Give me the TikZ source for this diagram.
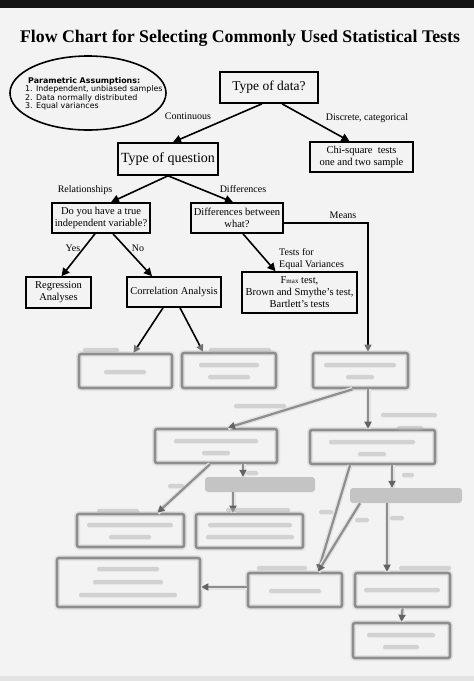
\documentclass[tikz,border=0pt]{standalone}
\usepackage{fontspec}
\setmainfont{Liberation Serif}
\newfontfamily\asmfont{DejaVu Sans}
\usetikzlibrary{
    arrows.meta,
    shapes.geometric
}
\definecolor{bgcol}{HTML}{F3F3F3}
\definecolor{blurcol}{HTML}{8E8E8E}

\begin{document}
\begin{tikzpicture}[
        x=1pt, y=-1pt,
        every node/.style={
            font=\fontsize{10.5pt}{12pt}\selectfont
        },
        heading/.style={
            font=\bfseries\fontsize{17.8pt}{20pt}\selectfont
        },
        assume/.style={
            ellipse,
            draw=black,
            line width=1.6pt,
            minimum width=156pt,
            minimum height=74pt,
            inner sep=0pt
        },
        asmtext/.style={
            align=left,
            inner sep=0pt,
            font=\asmfont\fontsize{7.9pt}{8.5pt}\selectfont
        },
        box/.style={
            rectangle,
            draw=black,
            line width=1.6pt,
            inner sep=0pt,
            align=center
        },
        lbl/.style={
            inner sep=0pt,
            font=\fontsize{10pt}{12pt}\selectfont
        },
        blurbox/.style={
            rectangle,
            draw=blurcol,
            line width=2.6pt,
            rounded corners=2pt,
            preaction={draw=gray!22, line width=6pt},
            inner sep=0pt
        },
        smudge/.style={
            rectangle,
            fill=gray!60,
            opacity=0.5,
            rounded corners=1.5pt,
            inner sep=0pt,
            minimum height=4.5pt
        },
        strip/.style={
            rectangle,
            fill=gray!55,
            opacity=0.8,
            rounded corners=3pt,
            inner sep=0pt,
            minimum height=15pt
        },
        arrow/.style={
            -{Triangle[length=8pt,width=8pt]},
            line width=1.6pt,
            draw=black
        },
        halfarrow/.style={
            -{Triangle[length=7pt,width=7pt,color=blurcol!80!black]},
            line width=1.6pt,
            draw=black
        },
        blurarrow/.style={
            -{Triangle[length=7pt,width=7pt,color=blurcol!70!black]},
            line width=2.2pt,
            draw=blurcol,
            preaction={draw=gray!22, line width=5pt, -}
        }
    ]

    % page
    \fill[bgcol] (0,0) rectangle (474,681);
    \fill[black!92] (0,0) rectangle (474,8);
    \fill[gray!22] (0,676) rectangle (474,681);
    \useasboundingbox (0,0) rectangle (474,681);

    \node[heading] (title) at (240,38)
        {Flow Chart for Selecting Commonly Used Statistical Tests};

    \node[assume] (assume) at (88,93) {};
    \node[asmtext, anchor=west] (asmtext) at (25,94)
        {\hspace*{3pt}\textbf{Parametric Assumptions:}\\
         1. Independent, unbiased samples\\
         2. Data normally distributed\\
         3. Equal variances};

    % sharp upper part
    \node[box, minimum width=98pt, minimum height=31pt,
          font=\fontsize{13.5pt}{15pt}\selectfont] (datatype) at (269,87.5)
        {Type of data?};

    \node[box, minimum width=100pt, minimum height=32pt,
          font=\fontsize{14pt}{16pt}\selectfont] (question) at (168,159)
        {Type of question};

    \node[box, minimum width=103pt, minimum height=30pt] (chisq) at (361.5,157)
        {Chi-square~ tests\\one and two sample};

    \node[box, minimum width=98pt, minimum height=30pt] (truevar) at (101,218)
        {Do you have a true\\independent variable?};

    \node[box, minimum width=92pt, minimum height=30pt] (diffwhat) at (237,218)
        {Differences between\\what?};

    \node[box, minimum width=65pt, minimum height=31pt] (regress) at (58.5,292.5)
        {Regression\\Analyses};

    \node[box, minimum width=94pt, minimum height=30pt] (corr) at (174,292)
        {Correlation Analysis};

    \node[box, minimum width=115pt, minimum height=41pt] (vartests) at (299.5,292.5)
        {F{\fontsize{7pt}{8pt}\selectfont max} test,\\
         Brown and Smythe's test,\\
         Bartlett's tests};

    \draw[arrow] ([xshift=-7pt]datatype.south) -- ([xshift=5pt]question.north);
    \draw[arrow] ([xshift=13pt]datatype.south) -- ([xshift=-12pt]chisq.north);
    \draw[arrow] (question.south) -- ([xshift=10pt]truevar.north);
    \draw[arrow] (question.south) -- ([xshift=-4pt]diffwhat.north);
    \draw[arrow] ([xshift=-6pt]truevar.south) -- ([xshift=3pt]regress.north);
    \draw[arrow] ([xshift=12pt]truevar.south) -- ([xshift=-22pt]corr.north);
    \draw[arrow] ([xshift=6pt]diffwhat.south) -- ([xshift=-24pt]vartests.north);

    \node[lbl] (continuous) at (188,116) {Continuous};
    \node[lbl] (discrete) at (367,118) {Discrete, categorical};
    \node[lbl] (relations) at (85,190) {Relationships};
    \node[lbl] (differences) at (243,189) {Differences};
    \node[lbl] (yes) at (73,248) {Yes};
    \node[lbl] (no) at (138,248) {No};
    \node[lbl, anchor=west, align=left] (eqvar) at (279,259)
        {Tests for\\Equal Variances};
    \node[lbl] (means) at (343,215) {Means};

    % blurred lower part
    \node[blurbox, minimum width=93pt, minimum height=34pt] (pearson) at (125.5,371) {};
    \node[blurbox, minimum width=94pt, minimum height=35pt] (spearman) at (229,370.5) {};
    \node[blurbox, minimum width=95pt, minimum height=35pt] (howmany) at (360.5,370.5) {};
    \node[blurbox, minimum width=122pt, minimum height=34pt] (twoassume) at (216,446) {};
    \node[blurbox, minimum width=125pt, minimum height=34pt] (manyassume) at (372.5,447) {};
    \node[strip, minimum width=110pt] (twotrans) at (260,484.5) {};
    \node[strip, minimum width=112pt] (manytrans) at (406,495.5) {};
    \node[blurbox, minimum width=107pt, minimum height=33pt] (ttest) at (130.5,530.5) {};
    \node[blurbox, minimum width=107pt, minimum height=34pt] (mannwhit) at (249.5,531) {};
    \node[blurbox, minimum width=143pt, minimum height=49pt] (posthoc) at (128.5,582.5) {};
    \node[blurbox, minimum width=94pt, minimum height=34pt] (anova) at (295,590) {};
    \node[blurbox, minimum width=95pt, minimum height=34pt] (kruskal) at (402.5,590) {};
    \node[blurbox, minimum width=97pt, minimum height=35pt] (dunn) at (401.5,640.5) {};

    \draw[halfarrow] ([xshift=-11pt]corr.south) -- ([xshift=8pt]pearson.north);
    \draw[halfarrow] ([xshift=6pt]corr.south) -- ([xshift=-26pt]spearman.north);
    \draw[halfarrow] ([yshift=-5pt]diffwhat.east) -| ([xshift=7.5pt]howmany.north);

    \draw[blurarrow] ([xshift=-8pt]howmany.south) -- ([xshift=12pt]twoassume.north);
    \draw[blurarrow] ([xshift=7.5pt]howmany.south) -- ([xshift=-4.5pt]manyassume.north);
    \draw[blurarrow] ([xshift=-6pt]twoassume.south) -- ([xshift=27pt]ttest.north);
    \draw[blurarrow] ([xshift=27pt]twoassume.south) -- ([xshift=-17pt]twotrans.north);
    \draw[blurarrow] ([xshift=-27pt]twotrans.south) -- ([xshift=-16.5pt]mannwhit.north);
    \draw[blurarrow] ([xshift=-22.5pt]manyassume.south) -- ([xshift=23pt]anova.north);
    \draw[blurarrow] ([xshift=-46pt]manytrans.south) -- ([xshift=23pt]anova.north);
    \draw[blurarrow] ([xshift=19.5pt]manyassume.south) -- ([xshift=-14pt]manytrans.north);
    \draw[blurarrow] ([xshift=-19pt]manytrans.south) -- ([xshift=-15.5pt]kruskal.north);
    \draw[blurarrow] (kruskal.south) -- (dunn.north);
    \draw[blurarrow] ([yshift=3pt]anova.west) -- ([yshift=-4.5pt]posthoc.east);

    % unreadable text, left as smudges
    \node[smudge, minimum width=42pt] (pearsonT) at (125,372) {};
    \node[smudge, minimum width=60pt] (spearmanT1) at (229,365) {};
    \node[smudge, minimum width=42pt] (spearmanT2) at (229,377) {};
    \node[smudge, minimum width=72pt] (howmanyT1) at (360,365) {};
    \node[smudge, minimum width=28pt] (howmanyT2) at (360,377) {};
    \node[smudge, minimum width=84pt] (twoassumeT1) at (216,441) {};
    \node[smudge, minimum width=28pt] (twoassumeT2) at (216,453) {};
    \node[smudge, minimum width=86pt] (manyassumeT1) at (372,442) {};
    \node[smudge, minimum width=28pt] (manyassumeT2) at (372,454) {};
    \node[smudge, minimum width=86pt] (ttestT1) at (130,525) {};
    \node[smudge, minimum width=42pt] (ttestT2) at (130,537) {};
    \node[smudge, minimum width=84pt] (mannwhitT1) at (250,525) {};
    \node[smudge, minimum width=88pt] (mannwhitT2) at (250,537) {};
    \node[smudge, minimum width=62pt] (posthocT1) at (128,569) {};
    \node[smudge, minimum width=70pt] (posthocT2) at (128,582) {};
    \node[smudge, minimum width=98pt] (posthocT3) at (128,595) {};
    \node[smudge, minimum width=52pt] (anovaT) at (295,591) {};
    \node[smudge, minimum width=76pt] (kruskalT) at (402,590) {};
    \node[smudge, minimum width=68pt] (dunnT1) at (401,635) {};
    \node[smudge, minimum width=36pt] (dunnT2) at (401,647) {};

    \node[smudge, minimum width=36pt] (pearsonL) at (101,350) {};
    \node[smudge, minimum width=62pt] (spearmanL) at (240,350) {};
    \node[smudge, minimum width=52pt] (twoL) at (260,406) {};
    \node[smudge, minimum width=56pt] (manyL1) at (409,415) {};
    \node[smudge, minimum width=26pt] (manyL2) at (410,428) {};
    \node[smudge, minimum width=16pt] (twoyesL) at (176,486) {};
    \node[smudge, minimum width=12pt] (twonoL) at (252,473) {};
    \node[smudge, minimum width=12pt] (manynoL) at (408,475) {};
    \node[smudge, minimum width=42pt] (ttestL) at (118,511) {};
    \node[smudge, minimum width=64pt] (mannwhitL) at (258,510) {};
    \node[smudge, minimum width=14pt] (anovayesL) at (326,512) {};
    \node[smudge, minimum width=14pt] (anovanoL) at (362,520) {};
    \node[smudge, minimum width=14pt] (kruskalL) at (397,518) {};
    \node[smudge, minimum width=50pt] (anovaL) at (282,568) {};
    \node[smudge, minimum width=52pt] (kruskalL2) at (425,568) {};

\end{tikzpicture}
\end{document}
